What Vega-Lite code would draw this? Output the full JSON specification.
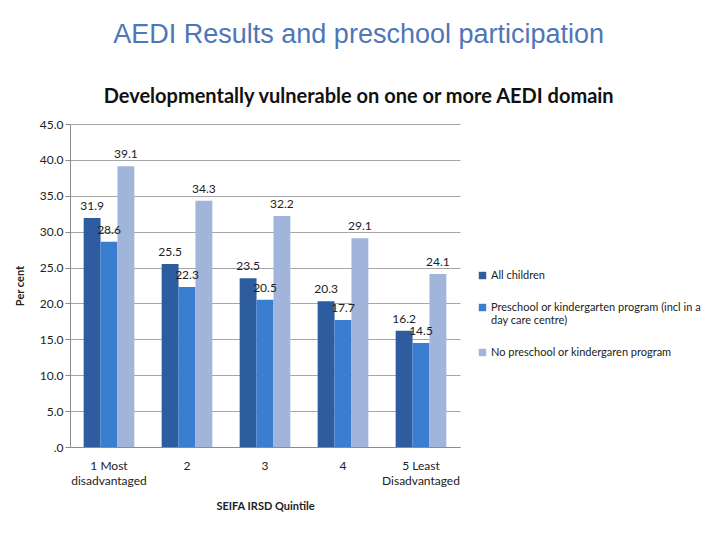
{
  "$schema": "https://vega.github.io/schema/vega-lite/v6.json",
  "width": 390,
  "height": 323,
  "autosize": {"type": "none"},
  "padding": {"left": 70, "top": 124, "right": 260, "bottom": 93},
  "background": "white",
  "title": {
    "text": "AEDI Results and preschool participation",
    "subtitle": "Developmentally vulnerable on one or more AEDI domain",
    "anchor": "middle",
    "frame": "bounds",
    "dx": 1,
    "font": "Liberation Sans",
    "fontSize": 27,
    "fontWeight": "normal",
    "color": "#4f76b8",
    "subtitleFont": "Lato",
    "subtitleFontSize": 20,
    "subtitleFontWeight": "bold",
    "subtitleColor": "#111111",
    "subtitlePadding": 38,
    "offset": 10
  },
  "data": {
    "values": [
      {"quintile": "1 Most|disadvantaged", "series": "All children", "value": 31.9},
      {"quintile": "1 Most|disadvantaged", "series": "Preschool or kindergarten program (incl in a day care centre)", "value": 28.6},
      {"quintile": "1 Most|disadvantaged", "series": "No preschool or kindergaren program", "value": 39.1},
      {"quintile": "2", "series": "All children", "value": 25.5},
      {"quintile": "2", "series": "Preschool or kindergarten program (incl in a day care centre)", "value": 22.3},
      {"quintile": "2", "series": "No preschool or kindergaren program", "value": 34.3},
      {"quintile": "3", "series": "All children", "value": 23.5},
      {"quintile": "3", "series": "Preschool or kindergarten program (incl in a day care centre)", "value": 20.5},
      {"quintile": "3", "series": "No preschool or kindergaren program", "value": 32.2},
      {"quintile": "4", "series": "All children", "value": 20.3},
      {"quintile": "4", "series": "Preschool or kindergarten program (incl in a day care centre)", "value": 17.7},
      {"quintile": "4", "series": "No preschool or kindergaren program", "value": 29.1},
      {"quintile": "5 Least|Disadvantaged", "series": "All children", "value": 16.2},
      {"quintile": "5 Least|Disadvantaged", "series": "Preschool or kindergarten program (incl in a day care centre)", "value": 14.5},
      {"quintile": "5 Least|Disadvantaged", "series": "No preschool or kindergaren program", "value": 24.1}
    ]
  },
  "encoding": {
    "x": {
      "field": "quintile",
      "type": "nominal",
      "sort": null,
      "scale": {"paddingInner": 0.35, "paddingOuter": 0.175},
      "axis": {
        "title": "SEIFA IRSD Quintile",
        "titleFont": "Lato",
        "titleFontSize": 11,
        "titleFontWeight": "bold",
        "titleColor": "#222222",
        "titlePadding": 14,
        "labelAngle": 0,
        "labelExpr": "split(datum.label, '|')",
        "labelFont": "Lato",
        "labelFontSize": 12,
        "labelColor": "#222222",
        "labelPadding": 13,
        "labelLineHeight": 15,
        "ticks": false,
        "domainColor": "#8c8c8c"
      }
    },
    "xOffset": {
      "field": "series",
      "type": "nominal",
      "sort": ["All children", "Preschool or kindergarten program (incl in a day care centre)", "No preschool or kindergaren program"]
    },
    "y": {
      "field": "value",
      "type": "quantitative",
      "scale": {"domain": [0, 45]},
      "axis": {
        "title": "Per cent",
        "titleFont": "Lato",
        "titleFontSize": 11,
        "titleFontWeight": "bold",
        "titleColor": "#222222",
        "titlePadding": 14,
        "values": [0, 5, 10, 15, 20, 25, 30, 35, 40, 45],
        "labelExpr": "datum.value == 0 ? '.0' : format(datum.value, '.1f')",
        "labelFont": "Lato",
        "labelFontSize": 12,
        "labelColor": "#222222",
        "tickColor": "#8c8c8c",
        "tickSize": 5,
        "domainColor": "#8c8c8c",
        "gridColor": "#a6a6a6",
        "grid": true
      }
    }
  },
  "layer": [
    {
      "mark": {"type": "bar"},
      "encoding": {
        "color": {
          "field": "series",
          "type": "nominal",
          "sort": ["All children", "Preschool or kindergarten program (incl in a day care centre)", "No preschool or kindergaren program"],
          "scale": {"range": ["#2d5d9e", "#3a7ed0", "#a1b5da"]},
          "legend": {
            "title": null,
            "orient": "none",
            "legendX": 407,
            "legendY": 146,
            "symbolType": "square",
            "symbolSize": 55,
            "symbolStrokeWidth": 0,
            "labelFont": "Lato",
            "labelFontSize": 11,
            "labelColor": "#222222",
            "labelLimit": 260,
            "labelLineHeight": 16,
            "labelOffset": 3,
            "rowPadding": 20,
            "labelExpr": "datum.label == 'Preschool or kindergarten program (incl in a day care centre)' ? ['Preschool or kindergarten program (incl in a', 'day care centre)'] : datum.label"
          }
        }
      }
    },
    {
      "mark": {"type": "text", "baseline": "bottom", "dy": -5, "font": "Lato", "fontSize": 12, "color": "#222222"},
      "encoding": {
        "text": {"field": "value", "type": "quantitative", "format": ".1f"}
      }
    }
  ],
  "config": {
    "view": {"stroke": null}
  }
}
